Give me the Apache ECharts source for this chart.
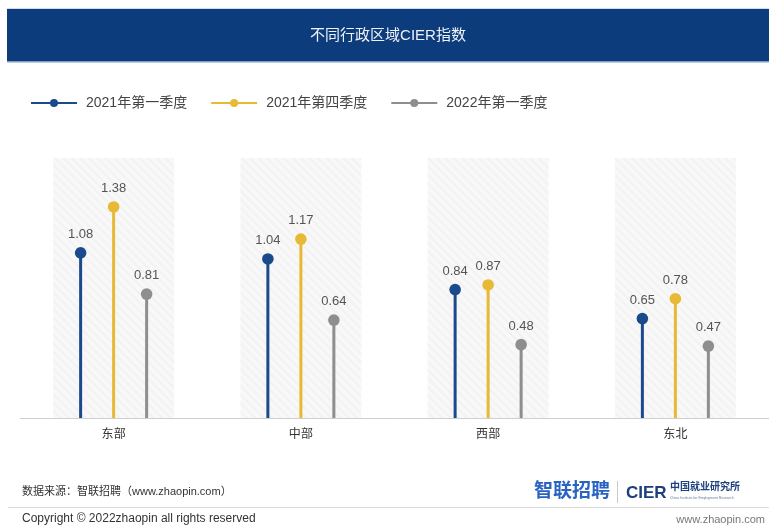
<!DOCTYPE html>
<html><head><meta charset="utf-8">
<script src="https://cdn.jsdelivr.net/npm/echarts@6/dist/echarts.min.js"></script>
<style>html,body{margin:0;padding:0;background:#fff;}#c{width:769px;height:527px;}</style>
</head><body><div id="c"></div>
<script>
var categories = ['东部', '中部', '西部', '东北'];
var seriesNames = ['2021年第一季度', '2021年第四季度', '2022年第一季度'];
var q1_2021 = [1.08, 1.04, 0.84, 0.65];
var q4_2021 = [1.38, 1.17, 0.87, 0.78];
var q1_2022 = [0.81, 0.64, 0.48, 0.47];
var bandValue = [1.7, 1.7, 1.7, 1.7];

var colors = ['#1b4a8c', '#e7b934', '#8e8e8e'];
var offsets = [-33, 0, 33];
var FONT = "'Liberation Sans','Noto Sans CJK SC',sans-serif";
var allValues = [q1_2021, q4_2021, q1_2022];

function makeSeries(i) {
  return {
    name: seriesNames[i],
    type: 'custom',
    itemStyle: { color: colors[i] },
    data: allValues[i].map(function (v, k) { return [k, v]; }),
    z: 5,
    renderItem: function (params, api) {
      var c = api.coord([api.value(0), api.value(1)]);
      var b = api.coord([api.value(0), 0]);
      var x = c[0] + offsets[i];
      return {
        type: 'group',
        children: [
          { type: 'line', shape: { x1: x, y1: b[1], x2: x, y2: c[1] }, style: { stroke: colors[i], lineWidth: 3 } },
          { type: 'circle', shape: { cx: x, cy: c[1], r: 5.8 }, style: { fill: colors[i] } },
          { type: 'text', style: { text: api.value(1).toFixed(2), x: x, y: c[1] - 12, align: 'center', verticalAlign: 'bottom', fill: '#555', font: '13px ' + FONT } }
        ]
      };
    }
  };
}

var legendIcon = 'path://M0,3L46,3L46,5L0,5Z M19,4A4,4 0 1,1 27,4A4,4 0 1,1 19,4Z';

var option = {
  animation: false,
  color: colors,
  textStyle: { fontFamily: FONT },
  legend: {
    data: seriesNames.map(function (n) { return { name: n, icon: legendIcon }; }),
    left: 26, top: 91,
    itemWidth: 46, itemHeight: 8, itemGap: 24,
    textStyle: { color: '#444', fontSize: 14, fontFamily: FONT, padding: [0, 0, 0, 4] }
  },
  grid: { left: 20, right: 0, top: 158, bottom: 109 },
  xAxis: {
    type: 'category', data: categories,
    axisLine: { lineStyle: { color: '#d0d0d0', width: 1 } },
    axisTick: { show: false },
    axisLabel: { color: '#333', fontSize: 12, margin: 11, fontFamily: FONT }
  },
  yAxis: { type: 'value', min: 0, max: 1.7, show: false, splitLine: { show: false } },
  series: [
    {
      type: 'bar', name: 'band', data: bandValue, barWidth: 121, silent: true, z: 1,
      itemStyle: {
        color: '#f8f8f8',
        decal: { symbol: 'rect', color: 'rgba(0,0,0,0.025)', dashArrayX: [1, 0], dashArrayY: [2, 4], rotation: Math.PI / 4 }
      }
    },
    makeSeries(0), makeSeries(1), makeSeries(2)
  ],
  graphic: [
    { type: 'rect', shape: { x: 7, y: 8, width: 762, height: 1 }, style: { fill: '#cfdcec' } },
    { type: 'rect', shape: { x: 7, y: 9, width: 762, height: 53 }, style: { fill: '#0c3c7c' } },
    { type: 'rect', shape: { x: 7, y: 61, width: 762, height: 1.5 }, style: { fill: '#7f9cc6' } },
    { type: 'text', style: { text: '不同行政区域CIER指数', x: 388, y: 36, align: 'center', verticalAlign: 'middle', fill: '#eef2f8', font: '15px ' + FONT } },
    { type: 'text', style: { text: '数据来源：智联招聘（www.zhaopin.com）', x: 22, y: 492, verticalAlign: 'middle', fill: '#333', font: '11px ' + FONT } },
    { type: 'text', style: { text: '智联招聘', x: 534, y: 492, verticalAlign: 'middle', fill: '#2a63c2', font: 'bold 19px ' + FONT } },
    { type: 'rect', shape: { x: 617, y: 481, width: 1, height: 22 }, style: { fill: '#c8c8c8' } },
    { type: 'text', style: { text: 'CIER', x: 626, y: 493, verticalAlign: 'middle', fill: '#1d3f7e', font: 'bold 17px ' + FONT } },
    { type: 'text', style: { text: '中国就业研究所', x: 670, y: 487, verticalAlign: 'middle', fill: '#1d3f7e', font: 'bold 10px ' + FONT } },
    { type: 'text', style: { text: 'China Institute for Employment Research', x: 670, y: 498, verticalAlign: 'middle', fill: '#6a7a95', font: '3.5px ' + FONT } },
    { type: 'rect', shape: { x: 8, y: 507, width: 761, height: 1 }, style: { fill: '#dcdcdc' } },
    { type: 'text', style: { text: 'Copyright © 2022zhaopin all rights reserved', x: 22, y: 519, verticalAlign: 'middle', fill: '#333', font: '12px ' + FONT } },
    { type: 'text', style: { text: 'www.zhaopin.com', x: 765, y: 520, align: 'right', verticalAlign: 'middle', fill: '#777', font: '11px ' + FONT } }
  ]
};
echarts.init(document.getElementById('c')).setOption(option);
</script></body></html>
